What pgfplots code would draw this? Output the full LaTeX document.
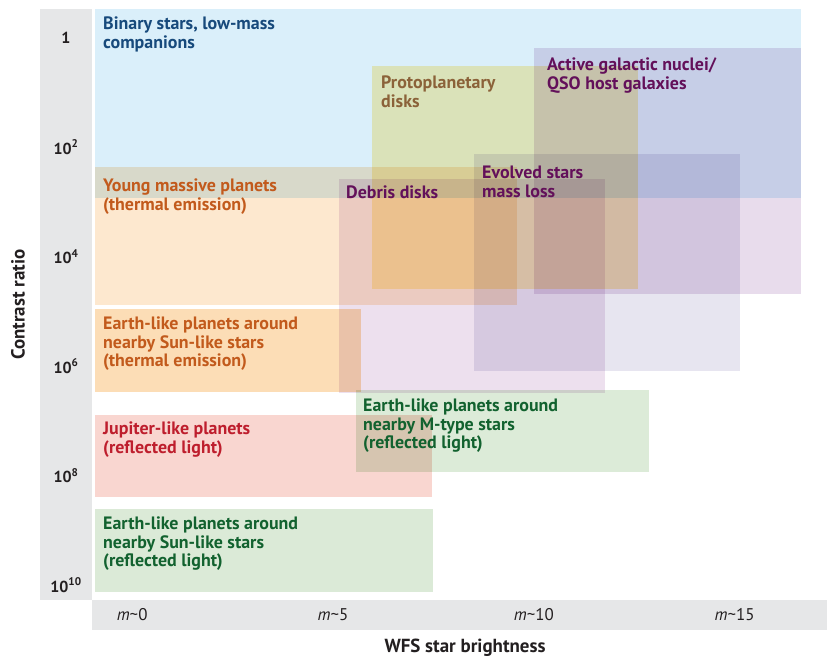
\documentclass[border=0pt]{standalone}
\usepackage{pgfplots}
\pgfplotsset{compat=1.18}
\usepackage{fontspec}
\setmainfont{PT Sans}
\definecolor{bandgray}{HTML}{E6E7E8}
\definecolor{cBlue}{HTML}{DAEFFA}
\definecolor{cYoung}{HTML}{FDE8CF}
\definecolor{cProto}{HTML}{FFF2BD}
\definecolor{cAGN}{HTML}{E8DCEC}
\definecolor{cEvol}{HTML}{E7E5F0}
\definecolor{cDebris}{HTML}{EDE0EE}
\definecolor{cTherm}{HTML}{FCDDB6}
\definecolor{cJup}{HTML}{F9D6D0}
\definecolor{cEM}{HTML}{DCEBD8}
\definecolor{cER}{HTML}{DBEAD7}
\definecolor{tBlue}{HTML}{174A7C}
\definecolor{tBrown}{HTML}{8B6239}
\definecolor{tPurple}{HTML}{63105A}
\definecolor{tOrange}{HTML}{C25A1C}
\definecolor{tRed}{HTML}{BE1E2D}
\definecolor{tGreen}{HTML}{12622F}
\definecolor{tick}{HTML}{231F20}
\newcommand{\boxfont}{\bfseries\fontsize{18}{18.5}\selectfont}
\begin{document}
\begin{tikzpicture}[x=1bp,y=1bp]
\useasboundingbox (0,0) rectangle (827,-662);
\fill[bandgray] (40,-9) rectangle (92,-600);
\fill[bandgray] (92,-600) rectangle (827,-630);
\begin{axis}[at={(92bp,-600bp)}, anchor=south west,
  width=735bp, height=591bp, scale only axis,
  xmin=-1, xmax=17.3, ymin=-0.52, ymax=10.27, y dir=reverse,
  axis line style={draw=none}, major tick length=0pt,
  xtick={0,5,10,15},
  xticklabels={\textit{m}\textasciitilde 0,\textit{m}\textasciitilde 5,\textit{m}\textasciitilde 10,\textit{m}\textasciitilde 15},
  ytick={0,2,4,6,8,10},
  yticklabels={1,10\textsuperscript{2},10\textsuperscript{4},10\textsuperscript{6},10\textsuperscript{8},10\textsuperscript{10}},
  xticklabel style={font=\fontsize{17}{17}\selectfont, text=tick, anchor=center, yshift=-15bp},
  yticklabel style={font=\bfseries\fontsize{16}{16}\selectfont, text=tick, anchor=center, xshift=-26bp},
  xlabel={WFS star brightness}, ylabel={Contrast ratio},
  label style={font=\bfseries\fontsize{19}{20}\selectfont, text=tick},
  xlabel style={at={(axis description cs:0.5075,-0.0812)}, anchor=center},
  ylabel style={at={(axis description cs:-0.1007,0.5)}, anchor=center},
  clip=false,
]
% Binary stars, low-mass companions
\addplot[fill=cBlue, draw=none, blend mode=multiply] coordinates {(-0.93,-0.52) (16.65,-0.52) (16.65,2.93) (-0.93,2.93)} -- cycle;
% Young massive planets
\addplot[fill=cYoung, draw=none, blend mode=multiply] coordinates {(-0.93,2.36) (9.58,2.36) (9.58,4.88) (-0.93,4.88)} -- cycle;
% Protoplanetary disks
\addplot[fill=cProto, draw=none, blend mode=multiply] coordinates {(5.97,0.52) (12.60,0.52) (12.60,4.59) (5.97,4.59)} -- cycle;
% AGN / QSO host galaxies
\addplot[fill=cAGN, draw=none, blend mode=multiply] coordinates {(10.01,0.19) (16.65,0.19) (16.65,4.68) (10.01,4.68)} -- cycle;
% Evolved stars mass loss
\addplot[fill=cEvol, draw=none, blend mode=multiply] coordinates {(8.51,2.13) (15.14,2.13) (15.14,6.09) (8.51,6.09)} -- cycle;
% Debris disks
\addplot[fill=cDebris, draw=none, blend mode=multiply] coordinates {(5.15,2.58) (11.77,2.58) (11.77,6.49) (5.15,6.49)} -- cycle;
% Earth-like, Sun-like, thermal
\addplot[fill=cTherm, draw=none, blend mode=multiply] coordinates {(-0.93,4.96) (5.70,4.96) (5.70,6.47) (-0.93,6.47)} -- cycle;
% Jupiter-like reflected
\addplot[fill=cJup, draw=none, blend mode=multiply] coordinates {(-0.93,6.89) (7.47,6.89) (7.47,8.39) (-0.93,8.39)} -- cycle;
% Earth-like, M-type, reflected
\addplot[fill=cEM, draw=none, blend mode=multiply] coordinates {(5.57,6.44) (12.87,6.44) (12.87,7.93) (5.57,7.93)} -- cycle;
% Earth-like, Sun-like, reflected
\addplot[fill=cER, draw=none, blend mode=multiply] coordinates {(-0.93,8.61) (7.49,8.61) (7.49,10.12) (-0.93,10.12)} -- cycle;
\end{axis}
\begin{scope}[every node/.style={anchor=north west, inner sep=0pt, align=left, font=\boxfont}]
\node[text=tBlue] at (103,-17) {Binary stars, low-mass\\companions};
\node[text=tBrown] at (381,-76) {Protoplanetary\\disks};
\node[text=tPurple] at (547,-58) {Active galactic nuclei/\\QSO host galaxies};
\node[text=tOrange] at (103,-179) {Young massive planets\\(thermal emission)};
\node[text=tPurple] at (346,-186) {Debris disks};
\node[text=tPurple] at (482,-166) {Evolved stars\\mass loss};
\node[text=tOrange] at (103,-317) {Earth-like planets around\\nearby Sun-like stars\\(thermal emission)};
\node[text=tGreen] at (363,-399) {Earth-like planets around\\nearby M-type stars\\(reflected light)};
\node[text=tRed] at (103,-422) {Jupiter-like planets\\(reflected light)};
\node[text=tGreen] at (103,-517) {Earth-like planets around\\nearby Sun-like stars\\(reflected light)};
\end{scope}
\end{tikzpicture}
\end{document}
